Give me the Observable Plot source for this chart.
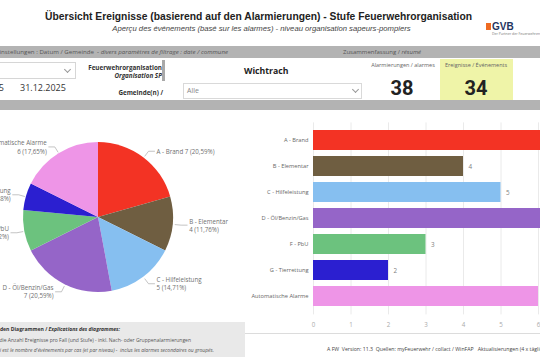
<!DOCTYPE html>
<html><head><meta charset="utf-8">
<script src="https://cdn.jsdelivr.net/npm/d3@7"></script>
<script src="https://cdn.jsdelivr.net/npm/@observablehq/plot@0.6"></script>
<style>
html,body{margin:0;padding:0;}
body{width:540px;height:360px;overflow:hidden;position:relative;background:#fff;font-family:"Open Sans",sans-serif;}
.abs{position:absolute;white-space:nowrap;}
.chev{position:absolute;width:4px;height:4px;border-right:1px solid #999;border-bottom:1px solid #999;transform:rotate(45deg);}
</style></head><body>
<script>
// ---------- data ----------
const categories = ["A - Brand","B - Elementar","C - Hilfeleistung","D - Öl/Benzin/Gas","F - PbU","G - Tierrettung","Automatische Alarme"];
const counts = [7,4,5,7,3,2,6];
const colors = ["#f33324","#6f5e41","#86bff0","#9565c8","#6cc27e","#2b1fd0","#ee95e7"];
const xTicks = [0,1,2,3,4,5,6,7,8];
const alarmCount = 38;
const eventCount = 34;
const dateFrom = "01.01.2025";
const dateTo = "31.12.2025";
const commune = "Wichtrach";

const rows = categories.map((c,i)=>({cat:c,count:counts[i]}));
const total = d3.sum(counts);
const pct = v => (v/total*100).toFixed(2).replace(".", ",") + "%";

// ---------- helpers ----------
function put(html, o){
  const d = document.createElement("div");
  d.className = "abs";
  d.innerHTML = html;
  const s = d.style;
  s.fontSize = o.size + "px";
  s.lineHeight = o.size + "px";
  s.top = (o.y - o.size/2) + "px";
  if (o.weight) s.fontWeight = o.weight;
  if (o.italic) s.fontStyle = "italic";
  s.color = o.color || "#333";
  if (o.family) s.fontFamily = o.family;
  if (o.anchor === "end") s.right = (540 - o.x) + "px";
  else if (o.anchor === "middle") { s.left = o.x + "px"; s.transform = "translateX(-50%)"; }
  else s.left = o.x + "px";
  document.body.appendChild(d);
  return d;
}
function box(x,y,w,h,style){
  const d = document.createElement("div");
  d.className = "abs";
  Object.assign(d.style,{left:x+"px",top:y+"px",width:w+"px",height:h+"px"},style||{});
  document.body.appendChild(d);
  return d;
}
function chevron(x,y){
  const d = document.createElement("div");
  d.className = "chev";
  d.style.left = x+"px"; d.style.top = y+"px";
  document.body.appendChild(d);
}

// ---------- header ----------
put("Übersicht Ereignisse (basierend auf den Alarmierungen) - Stufe Feuerwehrorganisation",
  {x:258.5,y:17,size:10.3,weight:"bold",color:"#222",anchor:"middle",family:"'Liberation Sans',Arial,sans-serif"});
put("Aperçu des événements (basé sur les alarmes) - niveau organisation sapeurs-pompiers",
  {x:261.5,y:29,size:7.7,italic:true,color:"#444",anchor:"middle",family:"'Liberation Sans',Arial,sans-serif"});
box(486,23,5,7,{background:"#ef6b22"});
put("GVB",{x:492,y:26.5,size:10,weight:"bold",color:"#1f3560",family:"'Liberation Sans',Arial,sans-serif"});
put("Der Partner der Feuerwehren",{x:492,y:34,size:3.5,color:"#777"});

// ---------- filter band ----------
box(0,46,540,12,{background:"#b3b3b3"});
put("Einstellungen : Datum / Gemeinde &nbsp;<i>- divers paramètres de filtrage : date / commune</i>",
  {x:228,y:52,size:6.15,color:"#555",anchor:"end"});
put("Zusammenfassung / <i>résumé</i>",{x:343,y:52,size:6,color:"#555"});

box(-5,62,79,15,{border:"1px solid #d6d6d6",background:"#fff"});
chevron(65,67);
put(dateFrom,{x:4,y:87,size:9,color:"#333",anchor:"end"});
put(dateTo,{x:20,y:87,size:9,color:"#333"});

put("Feuerwehrorganisation",{x:162,y:68,size:6.3,weight:"bold",color:"#333",anchor:"end"});
put("<i>Organisation SP</i>",{x:162,y:76,size:6.3,weight:"bold",color:"#333",anchor:"end"});
put("Gemeinde(n) /",{x:163,y:93,size:6.3,weight:"bold",color:"#333",anchor:"end"});
box(162,60,3,21,{background:"#a9a9a9"});

put(commune,{x:244,y:71,size:8.7,weight:"bold",color:"#222"});
box(183,83,177,14,{border:"1px solid #d9d9d9"});
put("Alle",{x:187,y:90.5,size:7,color:"#888"});
chevron(353,87);

put("Alarmierungen / alarmes",{x:403,y:66,size:5.5,color:"#666",anchor:"middle"});
put(String(alarmCount),{x:402,y:88,size:20,weight:"bold",color:"#222",anchor:"middle",family:"Roboto,sans-serif"});
box(440,59,73,41,{background:"#eff4a8"});
put("Ereignisse / Événements",{x:476,y:66,size:5.5,color:"#666",anchor:"middle"});
put(String(eventCount),{x:476,y:88,size:20,weight:"bold",color:"#222",anchor:"middle",family:"Roboto,sans-serif"});

box(0,100,540,10,{background:"#b3b3b3"});

// ---------- pie ----------
const pieData = d3.pie().sort(null).value(d=>d.count)(rows);
const R = 75; // px per unit
const labels = [], leaders = [];
pieData.forEach((a,i)=>{
  const mid = (a.startAngle + a.endAngle)/2;
  const s = Math.sin(mid), c = Math.cos(mid);
  const r0 = 1 + 2/R, r1 = 1 + 8/R;
  const dir = s >= 0 ? 1 : -1;
  const p0 = [r0*s, r0*c], p1 = [r1*s, r1*c], p2 = [p1[0] + dir*6/R, p1[1]];
  leaders.push({x:p0[0],y:p0[1],k:i},{x:p1[0],y:p1[1],k:i},{x:p2[0],y:p2[1],k:i});
  const d = a.data;
  const text = i === 0 ? `${d.cat} ${d.count} (${pct(d.count)})` : `${d.cat}\n${d.count} (${pct(d.count)})`;
  labels.push({x:p2[0] + dir*2/R, y:p1[1], text, dir});
});
function slices(index, scales){
  const cx = scales.x(0), cy = scales.y(0), r = scales.x(1) - cx;
  const arc = d3.arc().innerRadius(0).outerRadius(r);
  const col = scales.color || d3.scaleOrdinal(categories, colors);
  const g = d3.create("svg:g").attr("transform", `translate(${cx},${cy})`);
  g.selectAll("path").data(pieData).join("path")
    .attr("d", arc).attr("fill", d => col(d.data.cat));
  return g.node();
}
const pieW = 270, pieH = 215, pcx = 138, pcy = 107;
const pieFont = {lineAnchor:"middle", lineHeight:1.3, fontSize:6.2, fill:"#707070", fontFamily:"'Open Sans',sans-serif"};
const pie = Plot.plot({
  width: pieW, height: pieH, margin: 0,
  x: {domain: [-pcx/R, (pieW-pcx)/R], axis: null},
  y: {domain: [-(pieH-pcy)/R, pcy/R], axis: null},
  color: {domain: categories, range: colors},
  style: {background: "transparent", overflow: "visible"},
  marks: [
    Plot.dot(rows, {x: () => 0, y: () => 0, fill: "cat", r: 0}),
    slices,
    Plot.line(leaders, {x: "x", y: "y", z: "k", stroke: "#aaa", strokeWidth: 0.7}),
    Plot.text(labels.filter(d=>d.dir>0), {x:"x", y:"y", text:"text", textAnchor:"start", ...pieFont}),
    Plot.text(labels.filter(d=>d.dir<0), {x:"x", y:"y", text:"text", textAnchor:"end", ...pieFont})
  ]
});
Object.assign(pie.style, {position:"absolute", left:(98-pcx)+"px", top:(217-pcy)+"px"});
document.body.appendChild(pie);

// ---------- bars ----------
const bars = Plot.plot({
  width: 400, height: 230,
  marginLeft: 83, marginRight: 17, marginTop: 12.4, marginBottom: 25.6,
  x: {domain: [0, 8]},
  y: {domain: categories, padding: 0.22},
  color: {domain: categories, range: colors},
  style: {background: "transparent", fontFamily: "'Open Sans',sans-serif"},
  marks: [
    Plot.gridX(xTicks, {stroke: "#e4e4e4", strokeOpacity: 1, strokeWidth: 0.8}),
    Plot.barX(rows, {x: "count", y: "cat", fill: "cat"}),
    Plot.text(rows, {x: "count", y: "cat", text: d => String(d.count), textAnchor: "start", dx: 5, fill: "#808080", fontSize: 6.3}),
    Plot.axisY({tickSize: 0, tickPadding: 5, fontSize: 5.7, color: "#666", label: null}),
    Plot.axisX({ticks: xTicks, tickSize: 0, tickPadding: 8, fontSize: 6.2, color: "#aaa", label: null})
  ]
});
Object.assign(bars.style, {position:"absolute", left:"230px", top:"110px"});
document.body.appendChild(bars);

// ---------- footer ----------
box(0,322,245,35,{background:"#e9e9e9"});
put("Erklärungen zu den Diagrammen / <i>Explications des diagrammes:</i>",{x:120,y:330,size:5.1,weight:"bold",color:"#333",anchor:"end"});
put("Dies ist die Anzahl Ereignisse pro Fall (und Stufe) - inkl. Nach- oder Gruppenalarmierungen",{x:191,y:340,size:5,color:"#555",anchor:"end"});
put("<i>Ceci est le nombre d'événements par cas (et par niveau) - &nbsp;inclus les alarmes secondaires ou groupés.</i>",{x:214,y:350,size:5,color:"#555",anchor:"end"});
box(245,333,295,1,{background:"#dcdcdc"});
put("A FW &nbsp;Version: 11.3 &nbsp;Quellen: myFeuerwehr / collact / WinFAP &nbsp;&nbsp;Aktualisierungen (4 x täglich)",{x:327,y:350,size:5.2,color:"#444"});
</script>
</body></html>
